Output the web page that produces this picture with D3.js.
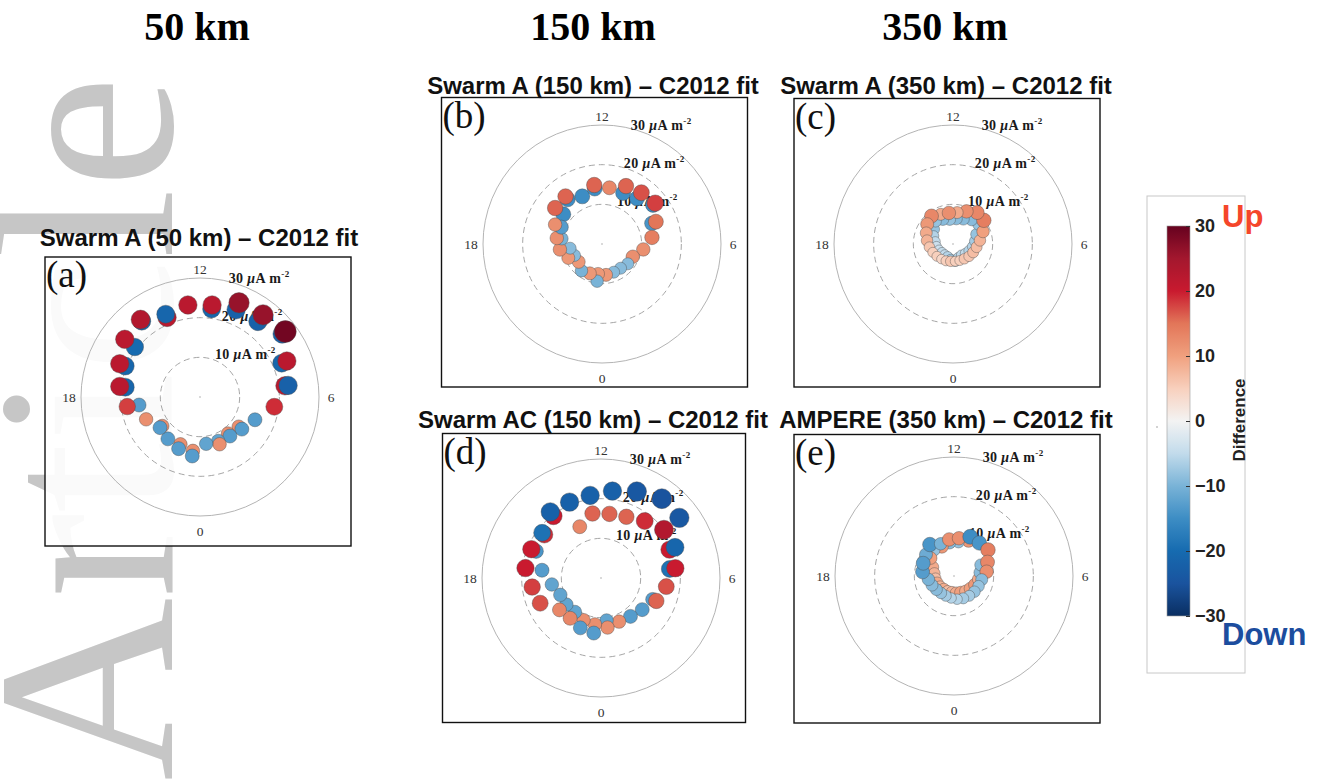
<!DOCTYPE html>
<html>
<head>
<meta charset="utf-8">
<script src="https://cdn.jsdelivr.net/npm/d3@7"></script>
<style>
  body { margin: 0; background: #fff; }
  svg { display: block; }
</style>
</head>
<body>
<svg id="fig" width="1323" height="780"></svg>
<script>
const columnTitles = ["50 km", "150 km", "350 km"];
const panelTitles = [
  "Swarm A (50 km) \u2013 C2012 fit",
  "Swarm A (150 km) \u2013 C2012 fit",
  "Swarm A (350 km) \u2013 C2012 fit",
  "Swarm AC (150 km) \u2013 C2012 fit",
  "AMPERE (350 km) \u2013 C2012 fit"
];
const panelLetters = ["(a)", "(b)", "(c)", "(d)", "(e)"];
const hourTicks = [12, 6, 0, 18];
const ringValues = [10, 20, 30];
const diffTicks = [30, 20, 10, 0, -10, -20, -30];

// each point: [MLT (h), radius (ring units), difference]
const panelA = [
  [17.5, 19.0, -21], [17.5, 20.4, 22],
  [16.5, 20.4, -21], [16.5, 21.9, 22],
  [15.5, 20.7, -20], [15.5, 23.9, 22],
  [14.5, 24.1, -21], [14.5, 24.6, 23],
  [13.5, 21.7, 22], [13.5, 22.6, -21],
  [12.5, 23.4, 22],
  [11.5, 22.4, -21], [11.5, 23.4, 22],
  [10.5, 23.8, -22], [10.5, 25.7, 26],
  [9.5, 24.0, -22], [9.5, 26.1, 26],
  [8.5, 26.1, -22], [8.5, 27.1, 29],
  [7.5, 22.3, -21], [7.5, 23.7, 22],
  [6.5, 21.6, 22], [6.5, 22.4, -22],
  [5.5, 18.9, 19],
  [4.5, 15.0, -13],
  [3.5, 12.3, 12], [3.5, 13.3, -13],
  [2.5, 11.6, 12], [2.5, 12.4, -13],
  [1.5, 12.0, -12], [1.5, 12.9, 12],
  [0.5, 11.9, -12],
  [23.5, 13.7, 12], [23.5, 15.0, -13],
  [22.5, 12.9, 12], [22.5, 14.1, -13],
  [21.5, 13.3, -13],
  [20.5, 12.0, 12], [20.5, 12.7, -13],
  [19.5, 14.7, 12],
  [18.5, 15.5, -13], [18.5, 18.5, 18]
];

const panelB = [
  [15.5, 12.3, -15], [15.5, 14.9, 16],
  [14.5, 14.2, -15], [14.5, 15.1, 16],
  [13.5, 13.0, -15],
  [12.5, 14.1, -15], [12.5, 15.0, 16],
  [11.5, 14.3, 13],
  [10.5, 13.9, -15], [10.5, 15.8, 16],
  [9.5, 14.5, -15], [9.5, 16.3, 17],
  [8.5, 16.2, -15], [8.5, 16.9, 18],
  [7.5, 13.6, -14], [7.5, 14.7, 15],
  [6.5, 12.7, 14],
  [5.5, 10.5, 12],
  [4.5, 8.4, 12],
  [3.5, 8.2, -9],
  [2.5, 7.7, -9],
  [1.5, 7.7, -9],
  [0.5, 7.85, 11],
  [23.5, 7.6, 11], [23.5, 9.45, -10],
  [22.5, 8.0, 11],
  [21.5, 8.5, -10],
  [20.5, 7.4, 11],
  [19.5, 7.5, -9], [19.5, 9.2, 11],
  [18.5, 8.1, -9], [18.5, 10.7, 12],
  [17.5, 10.2, -10], [17.5, 11.5, 12],
  [16.5, 11.1, -13], [16.5, 12.8, 12]
];

const panelC = [
  [15.5, 6.1, -8], [16.5, 5.3, -6], [17.5, 4.5, -5], [18.5, 4.2, -4],
  [19.5, 3.8, -4], [20.5, 3.5, -5], [21.5, 3.4, -5], [22.5, 3.5, -6],
  [23.5, 4.0, -7], [0.5, 4.3, -7], [1.5, 3.7, -6], [2.5, 3.5, -5],
  [3.5, 3.9, -5], [4.5, 4.4, -6], [5.5, 5.0, -6], [6.5, 5.6, -7],
  [7.5, 6.4, -8], [8.5, 8.1, -8], [9.5, 7.7, -9], [10.5, 6.8, -9],
  [11.5, 6.4, -9], [12.5, 6.2, -8], [13.5, 6.7, -9], [14.5, 7.2, -8],
  [13.5, 8.1, 9], [14.5, 8.9, 13], [15.5, 8.2, 11], [16.5, 7.3, 9],
  [17.5, 6.6, 8], [18.5, 6.0, 6], [19.5, 5.5, 5], [20.5, 5.1, 5],
  [21.5, 4.8, 4], [22.5, 4.6, 5], [23.5, 4.4, 6], [0.5, 4.4, 5],
  [1.5, 4.5, 5], [2.5, 4.7, 6], [3.5, 5.1, 6], [4.5, 5.5, 7],
  [5.5, 6.0, 7], [6.5, 6.85, 8], [7.5, 8.2, 10], [8.5, 9.8, 14],
  [9.5, 10.0, 13], [10.5, 8.9, 12], [11.5, 8.0, 9], [12.5, 7.9, 12]
];

const panelD = [
  [15.5, 18.0, 19], [15.5, 18.7, -19],
  [14.5, 19.7, 20], [14.5, 21.0, -22],
  [13.5, 20.7, -22], [13.5, 14.0, 13],
  [12.5, 21.0, -22], [12.5, 16.4, 16],
  [11.5, 22.1, -22], [11.5, 16.3, 16],
  [10.5, 23.6, -24], [10.5, 16.7, 16],
  [9.5, 25.2, -25], [9.5, 18.1, 19],
  [8.5, 24.9, -24], [8.5, 20.0, 23],
  [7.5, 18.7, 20], [7.5, 20.2, -21],
  [6.5, 17.5, -19], [6.5, 18.9, 20],
  [5.5, 16.6, 17],
  [4.5, 14.1, -13], [4.5, 15.1, 16],
  [3.5, 13.1, -13],
  [2.5, 12.2, -13],
  [1.5, 11.9, 12],
  [0.5, 10.8, -12], [0.5, 12.6, 12],
  [23.5, 11.8, 12], [23.5, 14.0, -13],
  [22.5, 11.5, 12], [22.5, 13.6, -13],
  [21.5, 10.8, -12], [21.5, 12.8, 13],
  [20.5, 11.0, -12], [20.5, 13.2, 13],
  [19.5, 11.1, -12], [19.5, 16.6, 17],
  [18.5, 12.5, -12], [18.5, 17.5, 18],
  [17.5, 15.0, -13], [17.5, 19.2, 20],
  [16.5, 17.7, -14], [16.5, 19.0, 20]
];

const panelE = [
  [16.5, 5.8, 9], [17.5, 5.0, 8], [18.5, 4.7, 7], [19.5, 4.6, 9],
  [20.5, 4.4, 8], [21.5, 4.2, 9], [22.5, 4.1, 7], [23.5, 4.1, 8],
  [0.5, 4.3, 9], [1.5, 4.5, 10], [2.5, 4.8, 9], [3.5, 5.2, 10],
  [4.5, 5.75, 11], [5.5, 6.2, 9], [6.5, 6.6, -9], [7.5, 7.3, -9],
  [10.5, 9.6, 11], [11.5, 8.6, -8], [12.5, 8.4, -9], [13.5, 8.0, 11],
  [14.5, 8.2, -8], [15.5, 7.4, 10],
  [15.5, 8.9, -11], [14.5, 10.0, -14], [13.5, 8.8, -10], [12.5, 9.3, 12],
  [11.5, 9.6, 12], [10.5, 10.7, -15], [9.5, 10.5, -14], [8.5, 10.8, 14],
  [7.5, 9.15, 13], [6.5, 8.3, 12], [5.5, 7.05, -9], [4.5, 6.7, -8],
  [3.5, 6.5, -8], [2.5, 6.3, -7], [1.5, 6.1, -7], [0.5, 5.9, -6],
  [23.5, 5.6, -6], [22.5, 5.4, -7], [21.5, 5.4, -8], [20.5, 5.6, -9],
  [19.5, 6.0, -9], [18.5, 6.5, -10], [17.5, 8.0, -13], [16.5, 8.4, -13]
];

const panelData = [panelA, panelB, panelC, panelD, panelE];

// layout of the five polar panels
const boxes = [
  { x: 45, y: 257, w: 306, h: 289, cx: 200, cy: 397, ty: 246, tx: 199 },
  { x: 441.5, y: 97.5, w: 306, h: 289.5, cx: 602, cy: 244, ty: 94, tx: 593 },
  { x: 794, y: 98.5, w: 306, h: 288.5, cx: 953, cy: 244, ty: 94, tx: 946 },
  { x: 442.5, y: 433.5, w: 303, h: 289, cx: 601, cy: 578, ty: 428, tx: 593 },
  { x: 794, y: 434.5, w: 306, h: 288.5, cx: 954, cy: 576, ty: 428, tx: 946 }
];
const columnX = [197, 593, 945];

const serif = "'Liberation Serif', 'Times New Roman', serif";
const sans = "'Liberation Sans', Arial, Helvetica, sans-serif";

const svg = d3.select("#fig");

// colour map (red = up, blue = down)
const colorStops = [-30, -25, -20, -15, -10, -5, 0, 5, 10, 15, 20, 25, 30];
const colorRange = ["#0a2f62", "#1a539e", "#166bb0", "#3d8dc4", "#79b3d7", "#c2dbeb",
  "#f3f3f3", "#f8d0bd", "#f0a07e", "#e27659", "#c91a2f", "#a3172e", "#66021f"];
const color = d3.scaleLinear().domain(colorStops).range(colorRange)
  .interpolate(d3.interpolateRgb).clamp(true);

const rScale = d3.scaleLinear().domain([0, 30]).range([0, 119]);
const aScale = d3.scaleLinear().domain([0, 24]).range([Math.PI, -Math.PI]);
const sizeScale = d3.scaleLinear().domain([0, 30]).range([3.8, 11.2]);

// "Article" watermark
svg.append("text")
  .attr("transform", "translate(172,781) rotate(-90)")
  .attr("font-family", serif)
  .attr("font-size", 254)
  .attr("fill", "#c6c6c6")
  .text("Article");

// column headers
svg.selectAll(".colTitle").data(columnTitles).join("text")
  .attr("class", "colTitle")
  .attr("x", (d, i) => columnX[i])
  .attr("y", 40)
  .attr("text-anchor", "middle")
  .attr("font-family", serif)
  .attr("font-weight", "bold")
  .attr("font-size", 40)
  .text(d => d);

boxes.forEach((b, i) => {
  const g = svg.append("g");
  const cx = b.cx, cy = b.cy;

  g.append("text")
    .attr("x", b.tx).attr("y", b.ty)
    .attr("text-anchor", "middle")
    .attr("font-family", sans)
    .attr("font-weight", "bold")
    .attr("font-size", 24)
    .attr("fill", "#111")
    .text(panelTitles[i]);

  g.append("rect")
    .attr("x", b.x).attr("y", b.y).attr("width", b.w).attr("height", b.h)
    .attr("fill", "#fff").attr("fill-opacity", 0.9)
    .attr("stroke", "#111").attr("stroke-width", 1.4);

  g.append("text")
    .attr("x", b.x + 1).attr("y", b.y + 30)
    .attr("font-family", serif)
    .attr("font-size", 37)
    .attr("fill", "#111")
    .text(panelLetters[i]);

  // rings
  g.selectAll(".ring").data(ringValues).join("circle")
    .attr("cx", cx).attr("cy", cy)
    .attr("r", d => rScale(d))
    .attr("fill", "none")
    .attr("stroke", d => d === 30 ? "#b4b4b4" : "#a6a6a6")
    .attr("stroke-width", 1)
    .attr("stroke-dasharray", d => d === 30 ? null : "6,4");

  g.append("circle").attr("cx", cx).attr("cy", cy).attr("r", 0.8).attr("fill", "#aaa");

  // hour labels
  g.selectAll(".hour").data(hourTicks).join("text")
    .attr("x", d => cx + (rScale(30) + 12) * Math.sin(aScale(d)))
    .attr("y", d => cy - (rScale(30) + (d === 0 ? 15 : 9)) * Math.cos(aScale(d)) + 5)
    .attr("text-anchor", "middle")
    .attr("font-family", serif)
    .attr("font-size", 13.5)
    .attr("fill", "#333")
    .text(d => d);

  // ring labels
  ringValues.forEach(v => {
    const r = rScale(v);
    const t = g.append("text")
      .attr("x", cx + r * Math.sin(Math.PI / 18) + 8)
      .attr("y", cy - r * 0.965 + 0.5)
      .attr("font-family", serif)
      .attr("font-weight", "bold")
      .attr("font-size", 14)
      .attr("letter-spacing", 0.4)
      .attr("fill", "#1a1a1a");
    t.append("tspan").text(v + " ");
    t.append("tspan").attr("font-style", "italic").text("\u03bc");
    t.append("tspan").text("A m");
    t.append("tspan").attr("dy", -6).attr("font-size", 9).text("-2");
  });

  // points
  g.selectAll(".pt").data(panelData[i]).join("circle")
    .attr("cx", d => cx + rScale(d[1]) * Math.sin(aScale(d[0])))
    .attr("cy", d => cy - rScale(d[1]) * Math.cos(aScale(d[0])))
    .attr("r", d => sizeScale(Math.abs(d[2])))
    .attr("fill", d => color(d[2]))
    .attr("stroke", "#4a4a4a")
    .attr("stroke-opacity", 0.7)
    .attr("stroke-width", 0.6);
});

// colour bar
const cb = svg.append("g");
cb.append("rect")
  .attr("x", 1147).attr("y", 196).attr("width", 98).attr("height", 477)
  .attr("fill", "none").attr("stroke", "#c8c8c8").attr("stroke-width", 1);
cb.append("circle").attr("cx", 1157).attr("cy", 427).attr("r", 0.8).attr("fill", "#999");

const barScale = d3.scaleLinear().domain([-30, 30]).range([616, 226]);
const grad = svg.append("defs").append("linearGradient")
  .attr("id", "cbGrad").attr("x1", 0).attr("y1", 1).attr("x2", 0).attr("y2", 0);
grad.selectAll("stop").data(d3.range(-30, 30.5, 1)).join("stop")
  .attr("offset", d => (d + 30) / 60)
  .attr("stop-color", d => color(d));
cb.append("rect")
  .attr("x", 1167).attr("y", 226).attr("width", 23).attr("height", 390)
  .attr("fill", "url(#cbGrad)")
  .attr("stroke", "#9a9a9a").attr("stroke-width", 0.6);

const barAxis = cb.append("g")
  .attr("transform", "translate(1190,0)")
  .call(d3.axisRight(barScale).tickValues(diffTicks).tickSize(-4).tickPadding(5));
barAxis.select(".domain").remove();
barAxis.selectAll("line").attr("stroke", "#333");
barAxis.selectAll("text")
  .attr("font-family", sans)
  .attr("font-weight", "bold")
  .attr("font-size", 18)
  .attr("fill", "#222");

cb.append("text")
  .attr("transform", "translate(1245,420) rotate(-90)")
  .attr("text-anchor", "middle")
  .attr("font-family", sans)
  .attr("font-weight", "bold")
  .attr("font-size", 17)
  .attr("fill", "#222")
  .text("Difference");

cb.append("text")
  .attr("x", 1222).attr("y", 227)
  .attr("font-family", sans).attr("font-weight", "bold").attr("font-size", 31)
  .attr("fill", "#f5462a")
  .text("Up");
cb.append("text")
  .attr("x", 1222).attr("y", 645)
  .attr("font-family", sans).attr("font-weight", "bold").attr("font-size", 31)
  .attr("fill", "#1c4d9e")
  .text("Down");
</script>
</body>
</html>
